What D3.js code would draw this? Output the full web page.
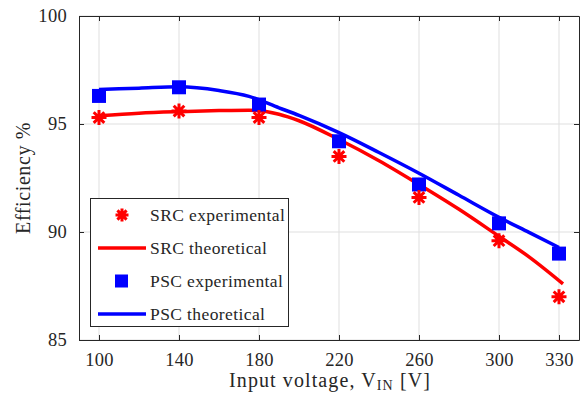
<!DOCTYPE html>
<html>
<head>
<meta charset="utf-8">
<script src="https://cdn.jsdelivr.net/npm/d3@7"></script>
<style>
  body { margin: 0; background: #fff; }
  text { font-family: "Liberation Serif", "Times New Roman", serif; fill: #262626; }
</style>
</head>
<body>
<svg id="chart" width="587" height="400" font-family="Liberation Serif"></svg>
<script>
'use strict';

// measured points
var voltages = [100, 140, 180, 220, 260, 300, 330];
var srcExp = [95.3, 95.6, 95.3, 93.5, 91.6, 89.6, 87.0];
var pscExp = [96.3, 96.7, 95.9, 94.2, 92.2, 90.4, 89.0];

// theoretical curves
var srcTheoV = [100, 120, 140, 160, 175, 190, 200, 220, 240, 260, 280, 300, 315, 332];
var srcTheoE = [95.38, 95.5, 95.57, 95.62, 95.64, 95.45, 95.15, 94.28, 93.3, 92.2, 91.05, 89.8, 88.85, 87.6];
var pscTheoV = [100, 120, 140, 160, 175, 190, 200, 220, 240, 260, 280, 300, 315, 330];
var pscTheoE = [96.6, 96.66, 96.72, 96.55, 96.28, 95.75, 95.4, 94.6, 93.68, 92.72, 91.7, 90.68, 89.98, 89.28];

var xTicks = [100, 140, 180, 220, 260, 300, 330];
var yTicks = [85, 90, 95, 100];

var svg = d3.select('#chart');
var mLeft = 79, mRight = 579, mTop = 16, mBottom = 340;

var x = d3.scaleLinear().domain([90, 340]).range([mLeft, mRight]);
var y = d3.scaleLinear().domain([85, 100]).range([mBottom, mTop]);

// grid
svg.append('g').selectAll('line').data(xTicks).join('line')
	.attr('x1', d => x(d)).attr('x2', d => x(d))
	.attr('y1', mTop).attr('y2', mBottom)
	.attr('stroke', '#dfdfdf').attr('stroke-width', 1);
svg.append('g').selectAll('line').data(yTicks).join('line')
	.attr('y1', d => y(d)).attr('y2', d => y(d))
	.attr('x1', mLeft).attr('x2', mRight)
	.attr('stroke', '#dfdfdf').attr('stroke-width', 1);

// axes with inward ticks on all four sides
var fontSize = '18.5px';
svg.append('g').attr('transform', 'translate(0,' + mBottom + ')')
	.call(d3.axisBottom(x).tickValues(xTicks).tickSizeInner(-5).tickSizeOuter(0).tickPadding(13))
	.call(g => g.selectAll('text').style('font-size', fontSize).style('letter-spacing', '0.3px'));
svg.append('g').attr('transform', 'translate(0,' + mTop + ')')
	.call(d3.axisTop(x).tickValues(xTicks).tickSizeInner(-5).tickSizeOuter(0).tickFormat(''));
svg.append('g').attr('transform', 'translate(' + mLeft + ',0)')
	.call(d3.axisLeft(y).tickValues(yTicks).tickSizeInner(-5).tickSizeOuter(0).tickPadding(12))
	.call(g => g.selectAll('text').style('font-size', fontSize).style('letter-spacing', '0.3px'));
svg.append('g').attr('transform', 'translate(' + mRight + ',0)')
	.call(d3.axisRight(y).tickValues(yTicks).tickSizeInner(-5).tickSizeOuter(0).tickFormat(''));
svg.selectAll('g[font-family]').attr('font-family', null);
svg.selectAll('.domain').attr('stroke', '#262626');
svg.selectAll('.tick line').attr('stroke', '#262626');
svg.selectAll('.tick text').attr('fill', '#262626');

// curves
var line = d3.line().x(d => x(d[0])).y(d => y(d[1])).curve(d3.curveMonotoneX);
svg.append('path').datum(d3.zip(srcTheoV, srcTheoE))
	.attr('d', line).attr('fill', 'none').attr('stroke', '#ff0000').attr('stroke-width', 3.5);
svg.append('path').datum(d3.zip(pscTheoV, pscTheoE))
	.attr('d', line).attr('fill', 'none').attr('stroke', '#0000ff').attr('stroke-width', 3.5);

// markers
function star(sel, r) {
	var a = r * 0.707;
	sel.append('path')
		.attr('d', 'M' + (-r) + ',0L' + r + ',0M0,' + (-r) + 'L0,' + r +
			'M' + (-a) + ',' + (-a) + 'L' + a + ',' + a + 'M' + (-a) + ',' + a + 'L' + a + ',' + (-a))
		.attr('stroke', '#ff0000').attr('stroke-width', 3).attr('fill', 'none');
}
svg.append('g').selectAll('rect').data(d3.zip(voltages, pscExp)).join('rect')
	.attr('x', d => x(d[0]) - 7).attr('y', d => y(d[1]) - 7)
	.attr('width', 14).attr('height', 14).attr('fill', '#0000ff');
svg.append('g').selectAll('g').data(d3.zip(voltages, srcExp)).join('g')
	.attr('transform', d => 'translate(' + x(d[0]) + ',' + y(d[1]) + ')')
	.each(function () { star(d3.select(this), 7.5); });

// labels
svg.append('text').attr('x', 330).attr('y', 387)
	.attr('text-anchor', 'middle').style('font-size', '20px').style('letter-spacing', '1.1px')
	.html('Input voltage, V<tspan font-size="14px" dy="3">IN</tspan><tspan dy="-3"> [V]</tspan>');
svg.append('text').attr('transform', 'translate(30,' + ((mTop + mBottom) / 2) + ') rotate(-90)')
	.attr('text-anchor', 'middle').style('font-size', '20px').style('letter-spacing', '0.6px')
	.text('Efficiency %');

// legend
var lg = svg.append('g');
lg.append('rect').attr('x', 90.5).attr('y', 198.5).attr('width', 198).attr('height', 128)
	.attr('fill', '#fff').attr('stroke', '#262626').attr('stroke-width', 1);
var legendNames = ['SRC experimental', 'SRC theoretical', 'PSC experimental', 'PSC theoretical'];
var legendY = [215, 248, 281, 314];
legendNames.forEach(function (name, i) {
	var ly = legendY[i];
	if (i === 0) {
		var g = lg.append('g').attr('transform', 'translate(122,' + ly + ')');
		star(g, 6.5);
	} else if (i === 2) {
		lg.append('rect').attr('x', 115).attr('y', ly - 6.5).attr('width', 13).attr('height', 13).attr('fill', '#0000ff');
	} else {
		lg.append('line').attr('x1', 98).attr('x2', 146).attr('y1', ly).attr('y2', ly)
			.attr('stroke', i === 1 ? '#ff0000' : '#0000ff').attr('stroke-width', 3.5);
	}
	lg.append('text').attr('x', 150).attr('y', ly + 5.5).style('font-size', '17.5px')
		.style('letter-spacing', '0.4px').text(name);
});
</script>
</body>
</html>
